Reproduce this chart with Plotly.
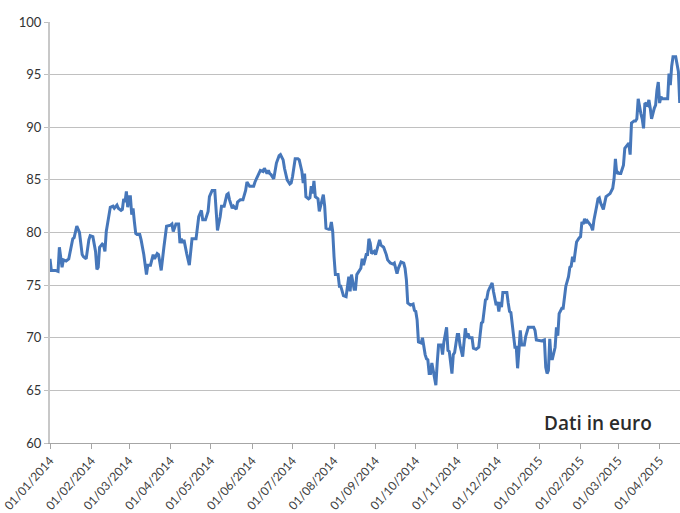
import pandas as pd
import plotly.graph_objects as go

# days elapsed since 01/01/2014
day_offset = [
    0, 1, 4, 6, 7, 8, 9, 10, 12, 14,
    17, 18, 20, 22, 24, 25, 27, 29, 30, 32,
    34, 35, 36, 37, 39, 40, 41, 42, 45, 47,
    48, 50, 51, 53, 54, 55, 56, 57, 58, 59,
    60, 61, 62, 63, 64, 65, 67, 68, 70, 72,
    73, 75, 77, 78, 80, 81, 83, 85, 86, 87,
    90, 91, 92, 94, 96, 97, 98, 99, 100, 101,
    102, 104, 105, 106, 109, 111, 113, 114, 116, 118,
    119, 121, 123, 124, 125, 127, 128, 130, 132, 133,
    134, 136, 137, 139, 140, 142, 144, 146, 147, 149,
    152, 153, 155, 157, 159, 160, 162, 163, 164, 165,
    167, 168, 169, 171, 172, 174, 175, 177, 179, 180,
    181, 183, 185, 186, 188, 189, 190, 191, 193, 194,
    195, 196, 197, 198, 200, 201, 203, 204, 205, 206,
    208, 209, 210, 211, 212, 213, 215, 216, 217, 218,
    219, 221, 222, 223, 224, 225, 227, 228, 229, 231,
    232, 233, 234, 236, 237, 238, 239, 240, 242, 243,
    244, 246, 247, 249, 251, 252, 254, 256, 257, 259,
    260, 262, 264, 265, 266, 267, 269, 271, 272, 273,
    274, 275, 277, 278, 280, 281, 282, 283, 284, 285,
    286, 288, 289, 290, 292, 293, 294, 296, 297, 298,
    300, 301, 302, 304, 305, 306, 308, 310, 311, 312,
    313, 315, 316, 318, 320, 322, 323, 325, 326, 327,
    328, 330, 331, 333, 334, 335, 336, 337, 338, 341,
    342, 343, 344, 346, 347, 348, 349, 350, 351, 352,
    354, 355, 357, 361, 362, 363, 366, 367, 369, 370,
    371, 372, 373, 374, 375, 377, 378, 379, 380, 382,
    383, 384, 385, 387, 388, 389, 390, 391, 392, 393,
    395, 396, 397, 398, 399, 400, 401, 403, 404, 405,
    406, 408, 409, 410, 411, 413, 414, 415, 416, 418,
    420, 421, 422, 423, 424, 425, 426, 428, 429, 430,
    432, 433, 434, 436, 437, 438, 439, 441, 442, 443,
    444, 446, 447, 448, 449, 451, 452, 453, 454, 455,
    456, 457, 459, 461, 462, 463, 464, 465, 467, 468,
    469, 470,
]

prezzo = [
    77.5, 76.4, 76.4, 76.3, 78.6, 77.5, 76.7, 77.4, 77.3, 77.5,
    79.4, 79.5, 80.6, 80.0, 77.9, 77.7, 77.5, 79.3, 79.7, 79.6,
    78.2, 76.5, 76.7, 78.6, 78.9, 78.8, 78.2, 80.1, 82.4, 82.5,
    82.3, 82.6, 82.3, 82.1, 82.2, 83.2, 82.9, 83.9, 82.4, 83.4,
    83.4, 81.7, 82.3, 81.0, 79.9, 79.8, 79.8, 79.3, 77.9, 76.0,
    76.9, 76.9, 77.9, 77.5, 78.0, 77.9, 76.4, 78.6, 79.8, 80.6,
    80.7, 80.8, 80.1, 80.8, 80.8, 79.0, 79.4, 79.0, 79.3, 78.5,
    78.0, 76.9, 78.3, 79.4, 79.4, 81.5, 82.1, 81.2, 81.2, 82.0,
    83.4, 84.0, 84.0, 81.8, 80.2, 81.5, 82.5, 82.5, 83.6, 83.7,
    83.1, 82.3, 82.5, 82.2, 82.9, 83.1, 83.1, 84.0, 84.8, 84.4,
    84.4, 84.8, 85.4, 85.9, 85.8, 86.1, 85.6, 85.9, 85.6, 85.5,
    85.1, 86.0, 86.6, 87.3, 87.4, 86.9, 86.1, 85.0, 84.6, 84.7,
    85.3, 87.0, 87.0, 86.9, 85.8, 84.7, 85.6, 83.4, 83.2, 83.3,
    84.4, 83.7, 84.9, 83.4, 83.2, 82.0, 82.9, 83.6, 82.5, 80.4,
    80.3, 80.3, 81.0, 80.1, 77.7, 76.0, 76.0, 74.9, 74.9, 74.5,
    74.0, 73.9, 74.7, 75.8, 74.4, 76.0, 74.6, 74.6, 76.0, 76.4,
    76.6, 77.5, 76.9, 77.9, 77.9, 79.4, 79.0, 78.0, 78.2, 77.9,
    78.3, 79.3, 78.8, 78.6, 77.9, 77.4, 77.1, 77.0, 77.1, 76.1,
    76.6, 77.2, 77.1, 76.6, 75.5, 73.3, 73.1, 73.2, 72.6, 72.5,
    71.7, 69.6, 69.5, 70.0, 68.4, 68.0, 67.9, 66.6, 66.6, 67.6,
    66.9, 65.5, 67.6, 69.3, 69.3, 68.4, 69.6, 71.0, 68.8, 68.7,
    66.6, 68.4, 68.6, 70.3, 70.3, 69.3, 68.2, 70.9, 70.0, 70.4,
    70.0, 70.0, 69.0, 68.9, 69.1, 71.4, 71.5, 73.6, 73.7, 74.4,
    74.7, 75.2, 74.4, 73.1, 73.4, 72.5, 73.4, 72.9, 74.3, 74.3,
    73.3, 72.5, 72.4, 70.4, 69.1, 69.1, 67.1, 68.8, 70.7, 69.3,
    69.3, 70.1, 71.0, 71.0, 70.7, 69.8, 69.7, 69.7, 69.8, 67.2,
    66.6, 66.9, 69.9, 68.0, 68.0, 69.1, 71.0, 70.2, 72.3, 72.8,
    72.8, 73.9, 74.9, 75.8, 76.7, 76.8, 77.7, 77.2, 78.5, 79.1,
    79.5, 79.6, 81.0, 80.8, 81.3, 80.9, 81.1, 80.7, 80.6, 80.2,
    81.2, 82.5, 83.2, 83.3, 82.8, 82.2, 82.9, 83.4, 83.5, 83.7,
    84.2, 85.1, 87.0, 85.6, 85.7, 85.6, 85.6, 86.4, 88.0, 88.2,
    88.5, 87.4, 90.4, 90.6, 90.6, 90.8, 92.7, 91.3, 90.8, 89.9,
    92.3, 92.1, 92.6, 91.8, 90.8, 91.8, 92.1, 93.5, 94.3, 92.3,
    92.9, 92.7, 92.7, 92.7, 95.1, 94.0, 95.8, 96.7, 96.7, 95.9,
    95.3, 92.3,
]

y_ticks = [60, 65, 70, 75, 80, 85, 90, 95, 100]
label_text = "Dati in euro"

dates = pd.Timestamp("2014-01-01") + pd.to_timedelta(day_offset, unit="D")

fig = go.Figure()
fig.add_trace(go.Scatter(
    x=dates, y=prezzo, mode="lines",
    line=dict(color="#4677BA", width=3),
    showlegend=False, hoverinfo="x+y",
))

fig.update_layout(
    width=680, height=513,
    margin=dict(l=50, r=0, t=22, b=70, autoexpand=False),
    paper_bgcolor="white", plot_bgcolor="white",
    xaxis=dict(
        type="date",
        range=["2014-01-01", "2015-04-16 05:00"],
        tick0="2014-01-01", dtick="M1",
        tickformat="%d/%m/%Y",
        tickangle=-48,
        ticks="outside", ticklen=5, tickcolor="#A6A6A6",
        showgrid=False,
        showline=True, linecolor="#A6A6A6", linewidth=1,
        tickfont=dict(family="Lato", size=12, color="#404040"),
        zeroline=False,
        automargin=False,
        ticklabeloverflow="allow",
    ),
    yaxis=dict(
        range=[60, 100],
        tickvals=y_ticks,
        ticks="outside", ticklen=4, tickcolor="#BFBFBF",
        showgrid=True, gridcolor="#C0C0C0", gridwidth=1.3,
        showline=True, linecolor="#C8C8C8", linewidth=2,
        tickfont=dict(family="Lato", size=13, color="#333333"),
        zeroline=False,
        automargin=False,
    ),
    annotations=[dict(
        text=label_text, xref="paper", yref="paper",
        x=0.781, y=0.048, xanchor="left", yanchor="middle",
        showarrow=False,
        font=dict(family="Open Sans", size=19, color="#2B2B2B", weight=600),
    )],
)

fig.write_html(
    "out.html",
    config={"displayModeBar": False},
    post_script="document.body.style.margin='0';document.body.style.overflow='hidden';",
)
